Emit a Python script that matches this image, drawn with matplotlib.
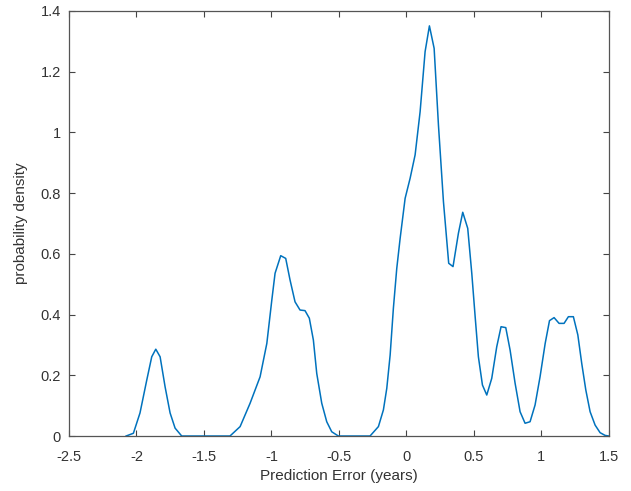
import matplotlib
matplotlib.use("Agg")
import matplotlib.pyplot as plt

# kernel density estimate of the prediction error, sampled along x
err = [-2.077, -2.023, -1.974, -1.924, -1.887, -1.857, -1.825, -1.788, -1.751, -1.714, -1.665,
       -1.307, -1.232, -1.158, -1.084, -1.034, -0.997, -0.973, -0.931, -0.894, -0.862, -0.825,
       -0.788, -0.751, -0.719, -0.689, -0.664, -0.627, -0.590, -0.553, -0.504,
       -0.269, -0.207, -0.170, -0.145, -0.120, -0.096, -0.071, -0.046, -0.009, 0.028, 0.065,
       0.102, 0.139, 0.171, 0.206, 0.238, 0.275, 0.314, 0.346, 0.386, 0.418, 0.455, 0.485,
       0.510, 0.534, 0.564, 0.596, 0.633, 0.670, 0.702, 0.737, 0.769, 0.806, 0.843, 0.880,
       0.917, 0.954, 0.991, 1.029, 1.061, 1.095, 1.132, 1.169, 1.201, 1.238, 1.271, 1.300,
       1.330, 1.362, 1.399, 1.436, 1.473, 1.500]
density = [0.0, 0.009, 0.076, 0.184, 0.261, 0.286, 0.261, 0.162, 0.076, 0.026, 0.0,
           0.0, 0.031, 0.108, 0.195, 0.305, 0.448, 0.536, 0.594, 0.585, 0.514, 0.442,
           0.415, 0.413, 0.388, 0.316, 0.206, 0.108, 0.047, 0.014, 0.0,
           0.0, 0.031, 0.086, 0.157, 0.267, 0.421, 0.552, 0.651, 0.783, 0.849, 0.926,
           1.068, 1.266, 1.351, 1.277, 1.024, 0.772, 0.569, 0.558, 0.668, 0.737, 0.684, 0.536,
           0.393, 0.261, 0.168, 0.135, 0.190, 0.294, 0.360, 0.357, 0.283, 0.174, 0.080, 0.042,
           0.047, 0.102, 0.195, 0.305, 0.380, 0.390, 0.371, 0.371, 0.393, 0.393, 0.333, 0.239,
           0.152, 0.080, 0.036, 0.011, 0.002, 0.0]

xticks = [-2.5, -2, -1.5, -1, -0.5, 0, 0.5, 1, 1.5]
xtick_labels = ['-2.5', '-2', '-1.5', '-1', '-0.5', '0', '0.5', '1', '1.5']
yticks = [0, 0.2, 0.4, 0.6, 0.8, 1, 1.2, 1.4]
ytick_labels = ['0', '0.2', '0.4', '0.6', '0.8', '1', '1.2', '1.4']

plt.rcParams['font.family'] = ['Liberation Sans', 'DejaVu Sans']
grey = '#333333'

fig = plt.figure(figsize=(6.31, 4.91), dpi=100)
ax = fig.add_axes([0.1094, 0.112, 0.8553, 0.8656])
ax.plot(err, density, color='#0072BD', lw=1.1)

ax.set_xlim(-2.5, 1.5)
ax.set_ylim(0, 1.4)
ax.set_xticks(xticks)
ax.set_xticklabels(xtick_labels)
ax.set_yticks(yticks)
ax.set_yticklabels(ytick_labels)
ax.tick_params(direction='in', length=4, width=0.8, color='#444444', labelsize=10.5,
               top=True, right=True, labelcolor=grey)
ax.tick_params(axis='x', pad=10)
ax.tick_params(axis='y', pad=6)
for s in ax.spines.values():
    s.set_color('#555555')
    s.set_linewidth(0.9)

ax.set_xlabel('Prediction Error (years)', fontsize=11, color=grey, labelpad=4)
ax.set_ylabel('probability density', fontsize=11, color=grey, labelpad=9)

fig.savefig('out.png', dpi=100)
